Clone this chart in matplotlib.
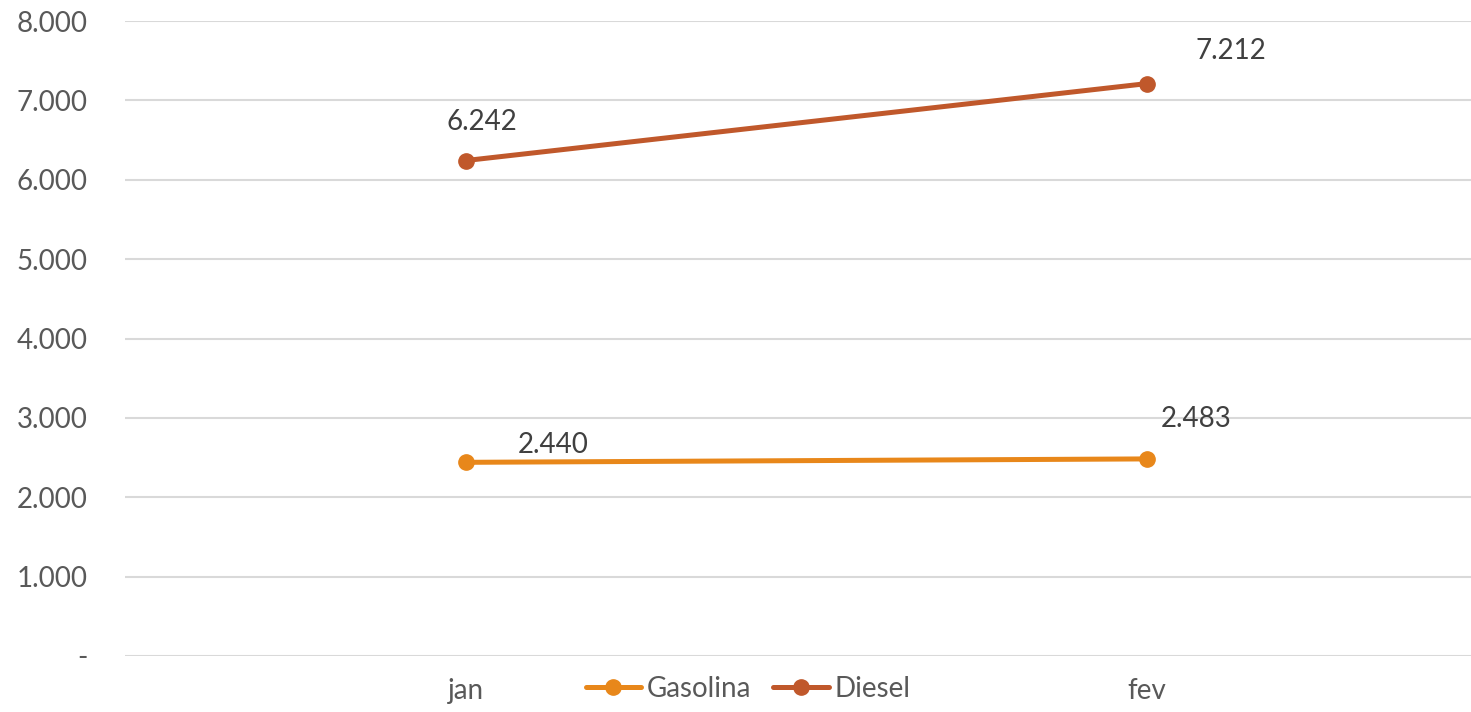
import matplotlib
matplotlib.use('Agg')
import matplotlib.pyplot as plt
from matplotlib.ticker import FixedLocator

# ── Data ──────────────────────────────────────────────────────────────────────
months   = ['jan', 'fev']
gasolina = [2440, 2483]
diesel   = [6242, 7212]
y_ticks  = [0, 1000, 2000, 3000, 4000, 5000, 6000, 7000, 8000]
y_labels = ['-', '1.000', '2.000', '3.000', '4.000', '5.000', '6.000', '7.000', '8.000']

C_GAS = '#E8871A'
C_DIE = '#C0582B'
TXT   = '#595959'
FS    = 20

plt.rcParams['font.family'] = ['Lato', 'DejaVu Sans']

fig = plt.figure(figsize=(14.71, 7.12), dpi=100)
ax = fig.add_axes([125/1471, 56/712, 1 - 125/1471, 635/712])

x = list(range(len(months)))
ax.plot(x, gasolina, color=C_GAS, lw=3.6, marker='o', ms=11, label='Gasolina',
        solid_capstyle='round')
ax.plot(x, diesel, color=C_DIE, lw=3.6, marker='o', ms=11, label='Diesel',
        solid_capstyle='round')

def fmt(v):
    return f'{v:,}'.replace(',', '.')

# data labels (Excel placement is a bit irregular — offsets in pixels)
offsets_gas = [(87, 17), (49, 40)]
offsets_die = [(16, 39), (84, 33)]
for xi, v, off in zip(x, gasolina, offsets_gas):
    ax.annotate(fmt(v), (xi, v), xytext=off, textcoords='offset pixels',
                ha='center', va='center', fontsize=FS, color='#404040')
for xi, v, off in zip(x, diesel, offsets_die):
    ax.annotate(fmt(v), (xi, v), xytext=off, textcoords='offset pixels',
                ha='center', va='center', fontsize=FS, color='#404040')

ax.set_xlim(-0.5, 1.475)
ax.set_ylim(0, 8000)
ax.yaxis.set_major_locator(FixedLocator(y_ticks))
ax.set_yticklabels(y_labels)
ax.set_xticks(x)
ax.set_xticklabels(months)
ax.tick_params(axis='both', length=0, labelsize=FS, labelcolor=TXT)
ax.tick_params(axis='y', pad=27)
ax.tick_params(axis='x', pad=16)
ax.grid(axis='y', color='#D9D9D9', lw=1.5)
ax.set_axisbelow(True)
for s in ax.spines.values():
    s.set_visible(False)

fig.legend(loc='center', bbox_to_anchor=(748/1471, 1 - 689/712), ncol=2,
           frameon=False, fontsize=FS, labelcolor=TXT, handlelength=2.0,
           handletextpad=0.2, columnspacing=0.8)

plt.savefig('out.png', dpi=100)
